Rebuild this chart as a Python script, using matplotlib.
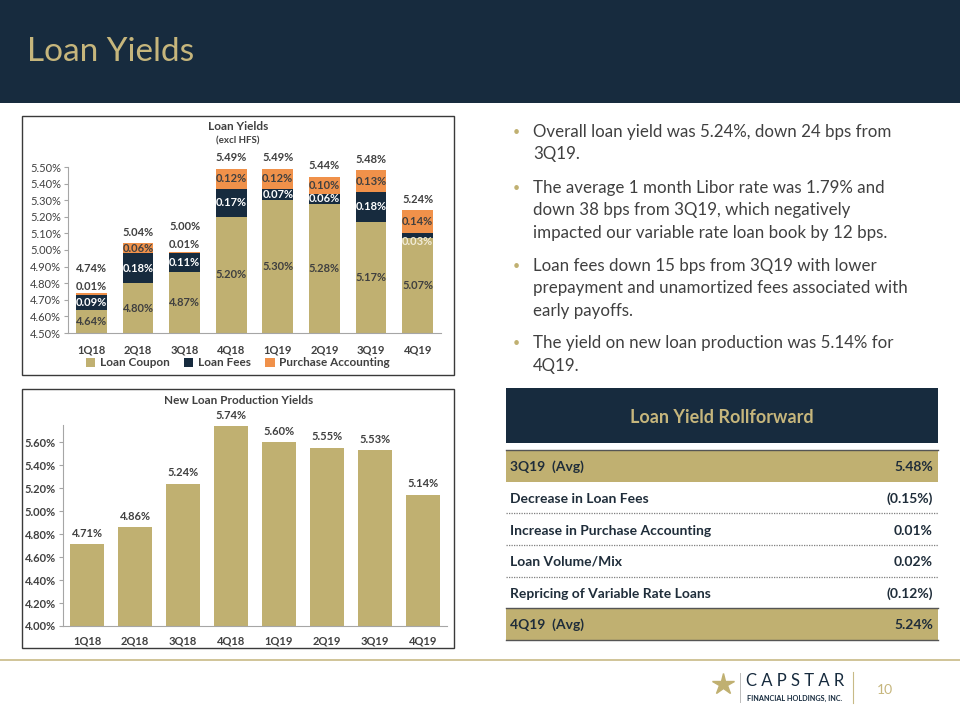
import matplotlib
matplotlib.use("Agg")
import matplotlib.pyplot as plt
from matplotlib.patches import Rectangle
from matplotlib.lines import Line2D

plt.rcParams['font.family'] = ['Lato', 'DejaVu Sans']

# ---------------- data ----------------
quarters = ["1Q18", "2Q18", "3Q18", "4Q18", "1Q19", "2Q19", "3Q19", "4Q19"]
loan_coupon = [4.64, 4.80, 4.87, 5.20, 5.30, 5.28, 5.17, 5.07]
loan_fees = [0.09, 0.18, 0.11, 0.17, 0.07, 0.06, 0.18, 0.03]
purchase_acct = [0.01, 0.06, 0.01, 0.12, 0.12, 0.10, 0.13, 0.14]
total_yield = [4.74, 5.04, 5.00, 5.49, 5.49, 5.44, 5.48, 5.24]
new_loan_yield = [4.71, 4.86, 5.24, 5.74, 5.60, 5.55, 5.53, 5.14]
top_yticks = [4.50, 4.60, 4.70, 4.80, 4.90, 5.00, 5.10, 5.20, 5.30, 5.40, 5.50]
bottom_yticks = [4.00, 4.20, 4.40, 4.60, 4.80, 5.00, 5.20, 5.40, 5.60]

bullets = [
    ["Overall loan yield was 5.24%, down 24 bps from", "3Q19."],
    ["The average 1 month Libor rate was 1.79% and",
     "down 38 bps from 3Q19, which negatively",
     "impacted our variable rate loan book by 12 bps."],
    ["Loan fees down 15 bps from 3Q19 with lower",
     "prepayment and unamortized fees associated with",
     "early payoffs."],
    ["The yield on new loan production was 5.14% for", "4Q19."],
]
roll_labels = ["3Q19  (Avg)", "Decrease in Loan Fees", "Increase in Purchase Accounting",
               "Loan Volume/Mix", "Repricing of Variable Rate Loans", "4Q19  (Avg)"]
roll_values = ["5.48%", "(0.15%)", "0.01%", "0.02%", "(0.12%)", "5.24%"]

# ---------------- style ----------------
NAVY = "#172b3e"
GOLD = "#c0b071"
GOLD_TXT = "#c6b67c"
ORANGE = "#f0914a"
DARK = "#404040"
W, H = 960, 720


def fx(x):
    return x / W


def fy(y):
    return 1 - y / H


fig = plt.figure(figsize=(9.6, 7.2), dpi=100)
fig.patch.set_facecolor("white")

# header band
fig.patches.append(Rectangle((0, fy(103)), 1, 103 / H, transform=fig.transFigure,
                             facecolor=NAVY, edgecolor="none", zorder=0))
fig.text(fx(27), fy(52), "Loan Yields", color=GOLD_TXT, fontsize=24,
         va="center", ha="left")

# chart boxes
for (x0, y0, x1, y1) in [(22, 116, 454, 375), (22, 389, 454, 648)]:
    fig.patches.append(Rectangle((fx(x0), fy(y1)), (x1 - x0) / W, (y1 - y0) / H,
                                 transform=fig.transFigure, facecolor="none",
                                 edgecolor="#3a3a3a", linewidth=1.0, zorder=0))

# ---------------- top chart ----------------
ax1 = fig.add_axes([fx(68), fy(333), 373 / W, 166 / H])
x = list(range(len(quarters)))
bw = 0.66
ax1.bar(x, loan_coupon, bw, color=GOLD, label="Loan Coupon", zorder=2)
bottoms2 = loan_coupon
ax1.bar(x, loan_fees, bw, bottom=bottoms2, color=NAVY, label="Loan Fees", zorder=2)
bottoms3 = [a + b for a, b in zip(loan_coupon, loan_fees)]
ax1.bar(x, purchase_acct, bw, bottom=bottoms3, color=ORANGE,
        label="Purchase Accounting", zorder=2)
ax1.set_ylim(4.5, 5.5)
ax1.set_xlim(-0.5, len(quarters) - 0.5)
ax1.set_yticks(top_yticks)
ax1.set_yticklabels([f"{v:.2f}%" for v in top_yticks], fontsize=8, color=DARK)
ax1.set_xticks(x)
ax1.set_xticklabels(quarters, fontsize=8, color=DARK, fontweight="bold")
for s in ["top", "right"]:
    ax1.spines[s].set_visible(False)
for s in ["left", "bottom"]:
    ax1.spines[s].set_color("#a6a6a6")
ax1.tick_params(axis="y", length=3, color="#a6a6a6", pad=2)
ax1.tick_params(axis="x", length=0, pad=8)
ax1.set_facecolor("none")

lblkw = dict(fontsize=8, fontweight="bold", ha="center", va="center", zorder=3)
for i in range(len(quarters)):
    ax1.text(i, (4.5 + loan_coupon[i]) / 2, f"{loan_coupon[i]:.2f}%", color=DARK, **lblkw)
    fee_y = loan_coupon[i] + loan_fees[i] / 2
    fee_col = "white"
    if loan_fees[i] < 0.05:
        fee_y = loan_coupon[i] - 0.02
        fee_col = "#f2ecd8"
    ax1.text(i, fee_y, f"{loan_fees[i]:.2f}%", color=fee_col, **lblkw)
    top = bottoms3[i] + purchase_acct[i]
    if purchase_acct[i] < 0.03:
        ax1.annotate(f"{purchase_acct[i]:.2f}%", (i, top), xytext=(0, 5),
                     textcoords="offset points", color=DARK, annotation_clip=False,
                     **lblkw)
        off = 18
    else:
        ax1.text(i, bottoms3[i] + purchase_acct[i] / 2, f"{purchase_acct[i]:.2f}%",
                 color=DARK, **lblkw)
        off = 8
    ax1.annotate(f"{total_yield[i]:.2f}%", (i, top), xytext=(0, off),
                 textcoords="offset points", color=DARK, annotation_clip=False,
                 **lblkw)

fig.text(fx(238), fy(127), "Loan Yields", fontsize=8.5, fontweight="bold",
         color=DARK, ha="center", va="center")
fig.text(fx(238), fy(141), "(excl HFS)", fontsize=7, fontweight="bold",
         color=DARK, ha="center", va="center")
leg = ax1.legend(loc="center", bbox_to_anchor=(fx(238), fy(363)),
                 bbox_transform=fig.transFigure, ncol=3, frameon=False,
                 fontsize=8.5, handlelength=0.8, handleheight=0.8,
                 handletextpad=0.4, columnspacing=1.2)
for t in leg.get_texts():
    t.set_color(DARK)
    t.set_fontweight("bold")

# ---------------- bottom chart ----------------
ax2 = fig.add_axes([fx(63), fy(626), 384 / W, 201 / H])
ax2.bar(x, new_loan_yield, 0.71, color=GOLD, zorder=2)
ax2.set_ylim(4.0, 5.75)
ax2.set_xlim(-0.5, len(quarters) - 0.5)
ax2.set_yticks(bottom_yticks)
ax2.set_yticklabels([f"{v:.2f}%" for v in bottom_yticks], fontsize=8, color=DARK,
                    fontweight="bold")
ax2.set_xticks(x)
ax2.set_xticklabels(quarters, fontsize=8, color=DARK, fontweight="bold")
for s in ["top", "right"]:
    ax2.spines[s].set_visible(False)
for s in ["left", "bottom"]:
    ax2.spines[s].set_color("#a6a6a6")
ax2.tick_params(axis="y", length=3, color="#a6a6a6", pad=2)
ax2.tick_params(axis="x", length=0, pad=7)
ax2.set_facecolor("none")
for i, v in enumerate(new_loan_yield):
    ax2.annotate(f"{v:.2f}%", (i, v), xytext=(0, 8), textcoords="offset points",
                 color=DARK, annotation_clip=False, **lblkw)
fig.text(fx(239), fy(401), "New Loan Production Yields", fontsize=8.5,
         fontweight="bold", color=DARK, ha="center", va="center")

# ---------------- bullets ----------------
para_y = [132, 188, 266, 343]
for py, lines in zip(para_y, bullets):
    fig.text(fx(516), fy(py), "\u2022", color=GOLD, fontsize=9,
             ha="center", va="center")
    for k, line in enumerate(lines):
        fig.text(fx(533), fy(py + k * 22.5), line, color=DARK, fontsize=12.2,
                 ha="left", va="center")

# ---------------- rollforward table ----------------
fig.patches.append(Rectangle((fx(506), fy(443)), (938 - 506) / W, 55 / H,
                             transform=fig.transFigure, facecolor=NAVY,
                             edgecolor="none"))
fig.text(fx(722), fy(417), "Loan Yield Rollforward", color=GOLD_TXT, fontsize=13,
         fontweight="bold", ha="center", va="center")
row_y = [467, 499, 531, 562, 594, 625]
for (y0, y1) in [(450, 482), (608, 640)]:
    fig.patches.append(Rectangle((fx(506), fy(y1)), (938 - 506) / W, (y1 - y0) / H,
                                 transform=fig.transFigure, facecolor=GOLD,
                                 edgecolor="none"))
for yl in [450, 608, 640]:
    fig.add_artist(Line2D([fx(506), fx(938)], [fy(yl), fy(yl)], color="#555555",
                          linewidth=1.0, transform=fig.transFigure))
for yl in [513, 545, 577]:
    fig.add_artist(Line2D([fx(506), fx(938)], [fy(yl), fy(yl)], color="#7f7f7f",
                          linewidth=0.9, linestyle=(0, (1, 1)),
                          transform=fig.transFigure))
for ry, lab, val in zip(row_y, roll_labels, roll_values):
    fig.text(fx(510), fy(ry), lab, color="#1f2d3a", fontsize=10, fontweight="bold",
             ha="left", va="center")
    fig.text(fx(933), fy(ry), val, color="#1f2d3a", fontsize=10, fontweight="bold",
             ha="right", va="center")

# ---------------- footer ----------------
fig.add_artist(Line2D([0, 1], [fy(660), fy(660)], color="#c8ba86", linewidth=1.2,
                      transform=fig.transFigure))
fig.add_artist(Line2D([fx(723)], [fy(684)], marker="*", markersize=16, color=GOLD,
                      transform=fig.transFigure))
fig.add_artist(Line2D([fx(740), fx(740)], [fy(673), fy(702)], color="#bbbbbb",
                      linewidth=0.7, transform=fig.transFigure))
fig.text(fx(746), fy(681), "C A P S T A R", color=NAVY, fontsize=12, ha="left",
         va="center")
fig.text(fx(747), fy(698), "FINANCIAL HOLDINGS, INC.", color=NAVY, fontsize=5.2,
         fontweight="bold", ha="left", va="center")
fig.add_artist(Line2D([fx(853), fx(853)], [fy(672), fy(703)], color="#c8ba86",
                      linewidth=0.8, transform=fig.transFigure))
fig.text(fx(885), fy(690), "10", color=GOLD_TXT, fontsize=10, ha="center",
         va="center")

fig.savefig("out.png", dpi=100)
